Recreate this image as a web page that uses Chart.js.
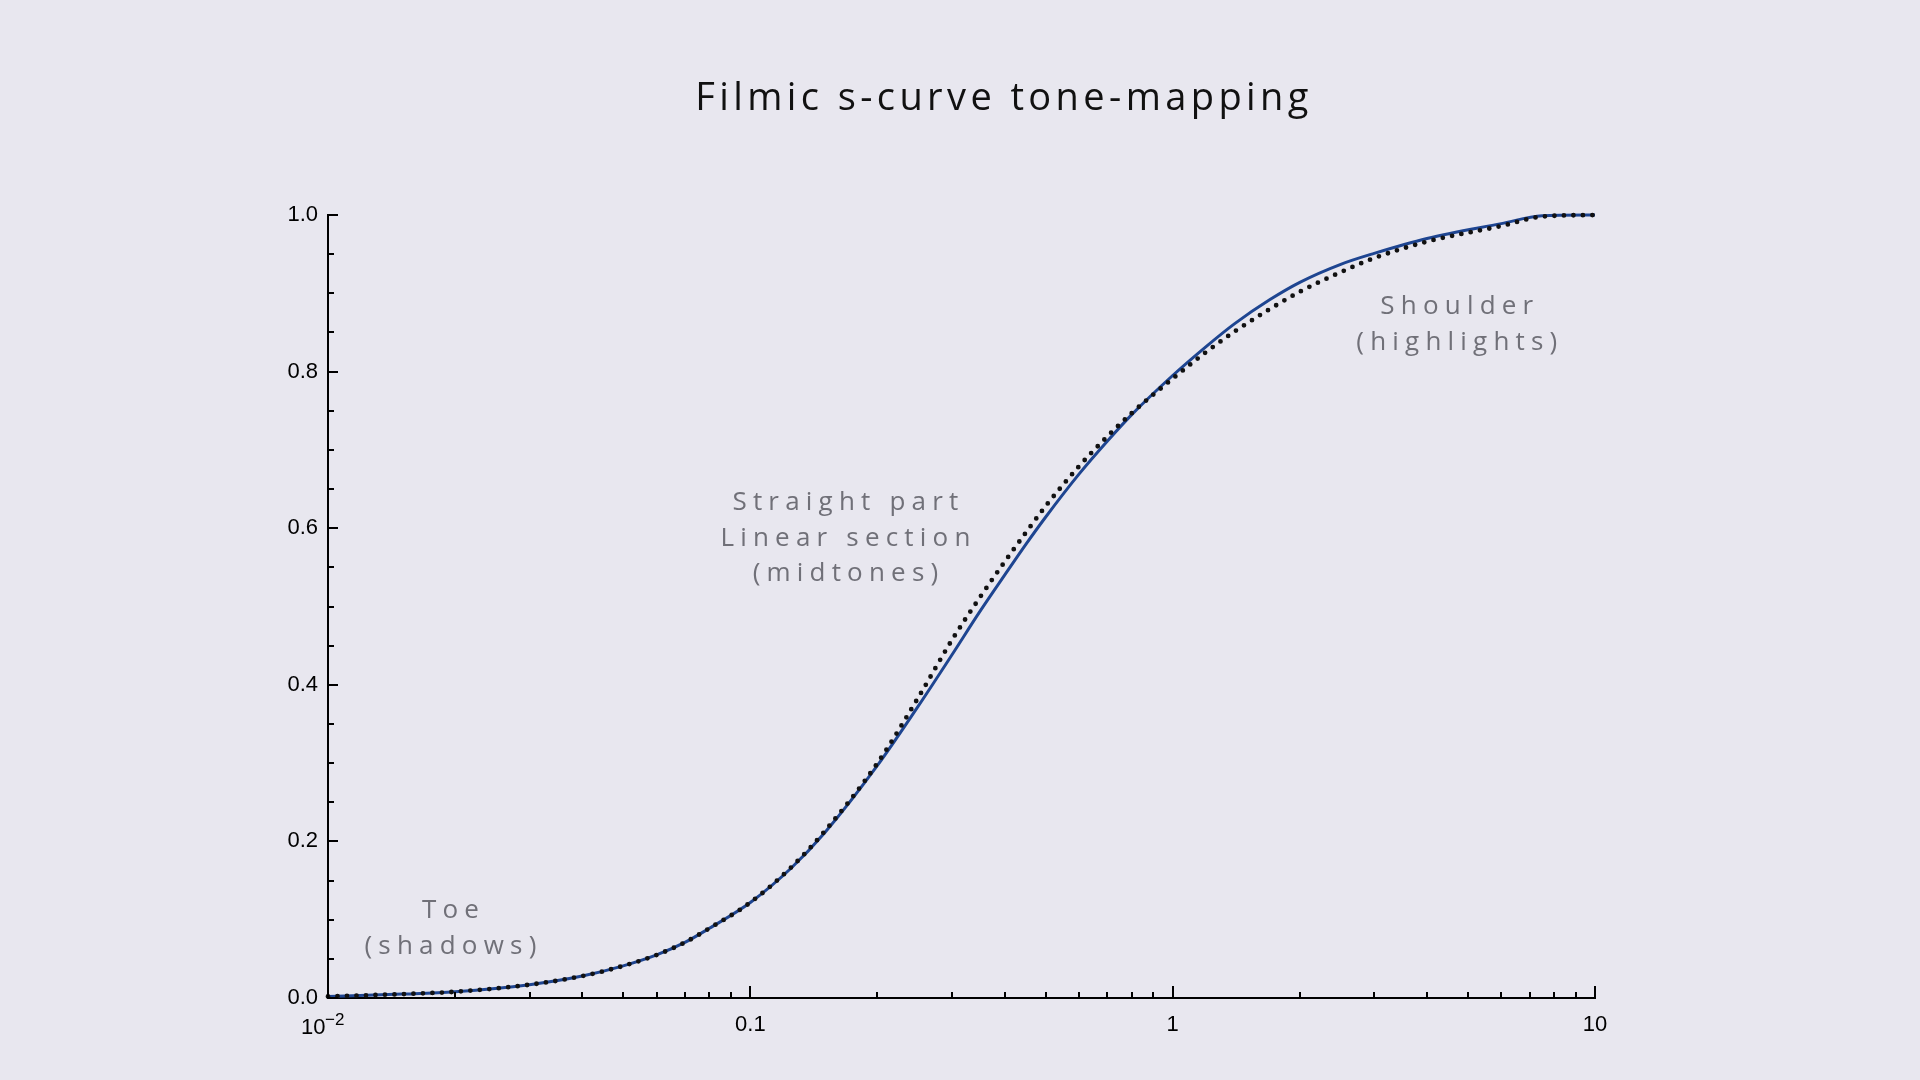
<!DOCTYPE html>
<html>
<head>
<meta charset="utf-8">
<title>Filmic s-curve tone-mapping</title>
<script src="https://cdn.jsdelivr.net/npm/chart.js@4.4.1/dist/chart.umd.min.js"></script>
<style>
  html, body { margin: 0; padding: 0; background: #e8e7ef; }
  #wrap { width: 1920px; height: 1080px; }
</style>
</head>
<body>
<div id="wrap"><canvas id="toneChart" width="1920" height="1080"></canvas></div>
<script>
// Scene luminance (log axis) and mapped output
const xValues = [0.01, 0.015, 0.02, 0.03, 0.04, 0.05, 0.06, 0.07, 0.08, 0.1, 0.125, 0.15,
                 0.2, 0.25, 0.3, 0.35, 0.4, 0.45, 0.5, 0.6, 0.7, 0.8, 1, 1.2, 1.4, 1.7,
                 2, 2.5, 3, 4, 6, 7.5, 10];
// solid blue curve
const filmicCurve = [0.002, 0.005, 0.008, 0.017, 0.028, 0.041, 0.055, 0.071, 0.089, 0.122, 0.166, 0.211,
                     0.297, 0.373, 0.438, 0.494, 0.540, 0.580, 0.614, 0.669, 0.711, 0.745, 0.795, 0.832, 0.861, 0.892,
                     0.914, 0.937, 0.951, 0.970, 0.989, 0.999, 1.0];
// dotted reference curve
const referenceCurve = [0.002, 0.005, 0.008, 0.017, 0.028, 0.041, 0.055, 0.071, 0.089, 0.122, 0.167, 0.213,
                        0.300, 0.384, 0.457, 0.512, 0.557, 0.595, 0.628, 0.679, 0.717, 0.747, 0.791, 0.825, 0.851, 0.880,
                        0.902, 0.927, 0.945, 0.966, 0.986, 0.998, 1.0];

const xTickValues = [0.01, 0.1, 1, 10];
const xTickLabels = ['', '0.1', '1', '10'];   // 10^-2 is drawn by hand (superscript)
const yTickValues = [0, 0.2, 0.4, 0.6, 0.8, 1.0];
const yTickLabels = ['0.0', '0.2', '0.4', '0.6', '0.8', '1.0'];

const chartTitle = 'Filmic s-curve tone-mapping';
// region notes: anchor in data space, then the lines
const notes = [
    { x: 0.0195, y: 0.114, lines: ['Toe', '(shadows)'] },
    { x: 0.168, y: 0.635, lines: ['Straight part', 'Linear section', '(midtones)'] },
    { x: 4.71, y: 0.885, lines: ['Shoulder', '(highlights)'] }
];

const bgColor = '#e8e7ef';
const tickFont = '"Liberation Sans", Arial, sans-serif';

// background, title, inward ticks and notes
const decorPlugin = {
    id: 'decor',
    beforeDraw(chart) {
        const ctx = chart.ctx;
        ctx.save();
        ctx.fillStyle = bgColor;
        ctx.fillRect(0, 0, chart.width, chart.height);
        ctx.restore();
    },
    afterDraw(chart) {
        const ctx = chart.ctx;
        const xs = chart.scales.x;
        const ys = chart.scales.y;
        const area = chart.chartArea;

        ctx.save();
        ctx.strokeStyle = '#000';
        ctx.lineWidth = 2;
        ctx.beginPath();
        // y ticks every 0.05, long ones on labelled values
        for (let i = 0; i <= 20; i++) {
            const py = Math.round(ys.getPixelForValue(i * 0.05));
            const len = (i % 4 === 0) ? 10 : 6;
            ctx.moveTo(area.left, py);
            ctx.lineTo(area.left + len, py);
        }
        // x ticks: decades long, 2..9 short
        for (let e = -2; e <= 1; e++) {
            const base = Math.pow(10, e);
            const px = Math.round(xs.getPixelForValue(base));
            ctx.moveTo(px, area.bottom);
            ctx.lineTo(px, area.bottom - 12);
            if (e === 1) continue;
            for (let k = 2; k <= 9; k++) {
                const mx = Math.round(xs.getPixelForValue(k * base));
                ctx.moveTo(mx, area.bottom);
                ctx.lineTo(mx, area.bottom - 6);
            }
        }
        ctx.stroke();

        // 10^-2 label
        const x0 = xs.getPixelForValue(0.01);
        ctx.fillStyle = '#000';
        ctx.textBaseline = 'alphabetic';
        ctx.textAlign = 'left';
        ctx.font = '22px ' + tickFont;
        ctx.fillText('10', x0 - 27, area.bottom + 36);
        ctx.font = '17px ' + tickFont;
        ctx.fillText('\u2212' + '2', x0 - 3, area.bottom + 27);

        // title
        ctx.fillStyle = '#111';
        ctx.font = '38px "Open Sans"';
        ctx.textAlign = 'center';
        ctx.textBaseline = 'middle';
        ctx.letterSpacing = '4.4px';
        ctx.fillText(chartTitle, 1004, 99);

        // notes
        ctx.fillStyle = '#707078';
        ctx.font = '26px "Open Sans"';
        ctx.letterSpacing = '6.2px';
        notes.forEach((n) => {
            const cx = xs.getPixelForValue(n.x);
            const cy = ys.getPixelForValue(n.y);
            n.lines.forEach((line, i) => {
                ctx.fillText(line, cx + 3, cy + 2 + i * 35.5);
            });
        });
        ctx.restore();
    }
};

const ctx = document.getElementById('toneChart').getContext('2d');
new Chart(ctx, {
    type: 'line',
    data: {
        labels: xValues,
        datasets: [{
            label: 'reference',
            data: xValues.map((x, i) => ({ x: x, y: referenceCurve[i] })),
            borderColor: '#111',
            borderWidth: 4.8,
            borderDash: [0, 9.5],
            borderCapStyle: 'round',
            pointRadius: 0,
            cubicInterpolationMode: 'monotone',
            fill: false
        }, {
            label: 'filmic',
            data: xValues.map((x, i) => ({ x: x, y: filmicCurve[i] })),
            borderColor: '#1e4591',
            borderWidth: 3,
            pointRadius: 0,
            cubicInterpolationMode: 'monotone',
            fill: false
        }]
    },
    options: {
        responsive: false,
        animation: false,
        clip: false,
        layout: { padding: { left: 0, right: 325, top: 215, bottom: 0 } },
        plugins: {
            legend: { display: false },
            title: { display: false },
            tooltip: { enabled: false }
        },
        scales: {
            x: {
                type: 'logarithmic',
                min: 0.01,
                max: 10,
                afterBuildTicks: (scale) => {
                    scale.ticks = xTickValues.map((v) => ({ value: v }));
                },
                afterFit: (scale) => { scale.height = 1080 - 998; },
                grid: { display: false, drawTicks: false },
                border: { display: true, color: '#000', width: 2 },
                ticks: {
                    autoSkip: false,
                    maxRotation: 0,
                    padding: 14,
                    color: '#000',
                    font: { family: tickFont, size: 22 },
                    callback: (value, index) => xTickLabels[index]
                }
            },
            y: {
                type: 'linear',
                min: 0,
                max: 1,
                afterBuildTicks: (scale) => {
                    scale.ticks = yTickValues.map((v) => ({ value: v }));
                },
                afterFit: (scale) => { scale.width = 328; },
                grid: { display: false, drawTicks: false },
                border: { display: true, color: '#000', width: 2 },
                ticks: {
                    autoSkip: false,
                    padding: 10,
                    color: '#000',
                    font: { family: tickFont, size: 22 },
                    callback: (value, index) => yTickLabels[index]
                }
            }
        }
    },
    plugins: [decorPlugin]
});
</script>
</body>
</html>
